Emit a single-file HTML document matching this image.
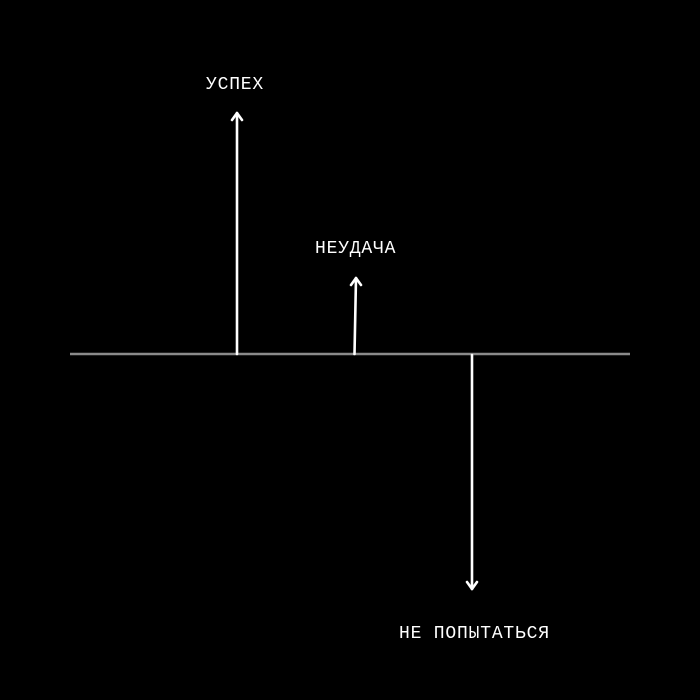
<!DOCTYPE html>
<html><head><meta charset="utf-8"><style>
html,body{margin:0;padding:0;background:#000;width:700px;height:700px;overflow:hidden}
svg{display:block}
text{font-family:"Liberation Mono","Noto Sans CJK SC",monospace;font-size:18px;fill:#fff;letter-spacing:0.8px}
</style></head><body>
<svg width="700" height="700" viewBox="0 0 700 700">
<rect width="700" height="700" fill="#000"/>
<line x1="70" y1="354" x2="630" y2="354" stroke="#8a8a8a" stroke-width="2.5"/>
<g stroke="#fff" stroke-width="2.6" fill="none" stroke-linecap="round" stroke-linejoin="round">
<line x1="237" y1="354" x2="237" y2="113"/>
<polyline points="232,120 237,113 242,120"/>
<line x1="354.5" y1="354" x2="356" y2="278"/>
<polyline points="351,285 356,278 361,285"/>
<line x1="472" y1="355" x2="472" y2="589"/>
<polyline points="467,582 472,589 477,582"/>
</g>
<text x="206" y="89">УСПЕХ</text>
<text x="315" y="253">НЕУДАЧА</text>
<text x="399" y="638">НЕ ПОПЫТАТЬСЯ</text>
</svg>
</body></html>
